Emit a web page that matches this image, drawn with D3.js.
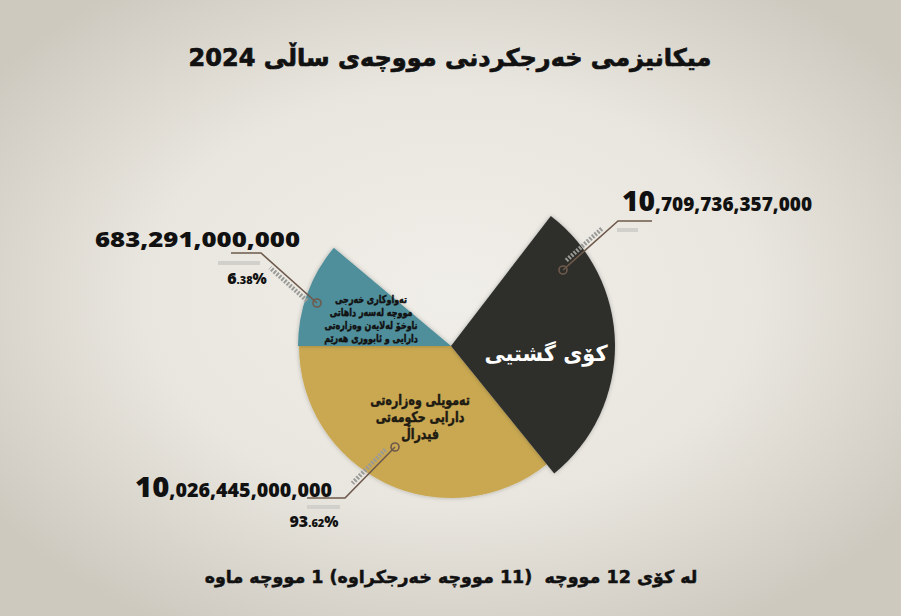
<!DOCTYPE html>
<html>
<head>
<meta charset="utf-8">
<script src="https://cdn.jsdelivr.net/npm/d3@7"></script>
<style>
  html, body { margin: 0; padding: 0; }
  body { width: 901px; height: 616px; overflow: hidden; }
</style>
</head>
<body>
<div id="chart"></div>
<script>
// data
const title = "ميكانيزمی خەرجكردنی مووچەی ساڵی 2024";
const footnote = "لە كۆی 12 مووچە  (11 مووچە خەرجكراوە) 1 مووچە ماوە";
const sliceKeys = ["total", "federal", "internal"];
const sliceValues = [10709736357000, 10026445000000, 683291000000];
const slicePercents = [null, 93.62, 6.38];
const sliceLabels = [
  ["كۆی گشتیی"],
  ["تەمویلی وەزارەتی", "دارایی حكومەتی", "فیدراڵ"],
  ["تەواوكاری خەرجی", "مووچە لەسەر داهاتی", "ناوخۆ لەلایەن وەزارەتی", "دارایی و ئابووری هەرێم"]
];

// layout (infographic, slices are not drawn to proportion)
const W = 901, H = 616;
const cx = 451, cy = 346;
const sliceAngles = [[37.5, 141], [141, 270], [270, 310]]; // degrees clockwise from 12 o'clock
const sliceRadius = [164, 152, 153];
const colors = ["#2e2e2c", "#c9a851", "#4f8e9b"];
const labelPos = [
  {x: 546, y: 361, size: 22, fill: "#ffffff", gap: 22, weight: "bold", sx: 0.95, stroke: 0},
  {x: 420, y: 405, size: 14.5, fill: "#1d1a12", gap: 17, weight: "bold", sx: 0.76, stroke: 0.5},
  {x: 371, y: 303, size: 10.8, fill: "#111", gap: 13, weight: "bold", sx: 0.74, stroke: 0.45}
];
const leaders = [
  {pts: [[563, 270], [618, 221], [652, 221]], num: {x: 622, y: 211, anchor: "start", w: 190}, shadow: [617, 638, 230]},
  {pts: [[395, 447], [345, 498], [307, 498]], num: {x: 332, y: 497, anchor: "end", w: 197}, pct: {x: 314, y: 527}, shadow: [307, 340, 507]},
  {pts: [[317, 303], [261, 253], [231, 253]], num: {x: 300, y: 247, anchor: "end", w: 205}, pct: {x: 247, y: 284}, shadow: [218, 260, 263]}
];

const svg = d3.select("#chart").append("svg")
  .attr("width", W).attr("height", H);

const defs = svg.append("defs");
const bg = defs.append("radialGradient").attr("id", "bg")
  .attr("cx", "50%").attr("cy", "48%").attr("r", "62%");
bg.append("stop").attr("offset", "0%").attr("stop-color", "#f0eee8");
bg.append("stop").attr("offset", "55%").attr("stop-color", "#e9e6df");
bg.append("stop").attr("offset", "100%").attr("stop-color", "#cdc9bf");
const shadow = defs.append("filter").attr("id", "soft")
  .attr("x", "-20%").attr("y", "-20%").attr("width", "140%").attr("height", "140%");
shadow.append("feDropShadow").attr("dx", 0).attr("dy", 0)
  .attr("stdDeviation", 2).attr("flood-color", "#000").attr("flood-opacity", 0.25);

svg.append("rect").attr("width", W).attr("height", H).attr("fill", "url(#bg)");

svg.append("text")
  .attr("x", 450).attr("y", 66)
  .attr("text-anchor", "middle")
  .attr("direction", "rtl")
  .style("font-family", "'DejaVu Sans', sans-serif")
  .style("font-weight", "bold")
  .style("font-size", "24px")
  .attr("fill", "#111")
  .attr("stroke", "#111").attr("stroke-width", 0.7)
  .text(title);

const angle = d3.scaleLinear().domain([0, 360]).range([0, 2 * Math.PI]);

const slices = sliceKeys.map((k, i) => ({
  key: k,
  value: sliceValues[i],
  startAngle: angle(sliceAngles[i][0]),
  endAngle: angle(sliceAngles[i][1]),
  r: sliceRadius[i]
}));

const pie = svg.append("g").attr("transform", `translate(${cx},${cy})`);
// draw gold + teal first, dark last so its shadow sits on top
[1, 2, 0].forEach(i => {
  const s = slices[i];
  const arc = d3.arc().innerRadius(0).outerRadius(s.r);
  pie.append("path")
    .attr("d", arc(s))
    .attr("fill", colors[i])
    .attr("filter", "url(#soft)");
});

// inside labels (squeezed horizontally, the original face is narrower)
slices.forEach((s, i) => {
  const lp = labelPos[i];
  const t = svg.append("g")
    .attr("transform", `translate(${lp.x},${lp.y}) scale(${lp.sx},1)`)
    .append("text")
    .attr("text-anchor", "middle")
    .attr("direction", "rtl")
    .style("font-family", "'DejaVu Sans', sans-serif")
    .style("font-weight", lp.weight)
    .style("font-size", lp.size + "px")
    .attr("fill", lp.fill);
  if (lp.stroke) t.attr("stroke", lp.fill).attr("stroke-width", lp.stroke);
  sliceLabels[i].forEach((line, j) => {
    t.append("tspan").attr("x", 0).attr("y", j * lp.gap).text(line);
  });
});

// leaders
const lineGen = d3.line();
const fmt = d3.format(",d");
leaders.forEach((ld, i) => {
  const g = svg.append("g");
  g.append("line")
    .attr("x1", ld.shadow[0]).attr("x2", ld.shadow[1])
    .attr("y1", ld.shadow[2]).attr("y2", ld.shadow[2])
    .attr("stroke", "#d2d0cb").attr("stroke-width", 4);
  // chain texture along the slanted segment
  const [a, b] = ld.pts;
  const dx = b[0] - a[0], dy = b[1] - a[1], len = Math.hypot(dx, dy);
  const nx = -dy / len * 5, ny = dx / len * 5;
  const side = i === 1 ? 1 : -1;
  g.append("line")
    .attr("x1", a[0] + dx * 0.12 + nx * side).attr("y1", a[1] + dy * 0.12 + ny * side)
    .attr("x2", a[0] + dx * 0.78 + nx * side).attr("y2", a[1] + dy * 0.78 + ny * side)
    .attr("stroke", "#9a9a97").attr("stroke-width", 4.5)
    .attr("stroke-dasharray", "2,1.5");
  g.append("path")
    .attr("d", lineGen(ld.pts))
    .attr("fill", "none")
    .attr("stroke", "#6e5a4c").attr("stroke-width", 1.6);
  g.append("circle")
    .attr("cx", a[0]).attr("cy", a[1]).attr("r", 4)
    .attr("fill", "none")
    .attr("stroke", "#6e5a4c").attr("stroke-width", 1.6);

  // value label: first group bigger
  const str = fmt(sliceValues[i]);
  const first = str.split(",")[0];
  const rest = str.slice(first.length);
  const big = first.length === 2;
  const nt = g.append("text")
    .attr("x", ld.num.x).attr("y", ld.num.y)
    .attr("text-anchor", ld.num.anchor)
    .attr("textLength", ld.num.w)
    .attr("lengthAdjust", "spacingAndGlyphs")
    .style("font-family", "'Open Sans', sans-serif")
    .style("font-weight", 800)
    .attr("fill", "#111");
  nt.append("tspan").style("font-size", big ? "29px" : "20.5px").text(first);
  nt.append("tspan").style("font-size", big ? "19.5px" : "20.5px").text(rest);

  if (slicePercents[i] != null) {
    const p = d3.format(".2f")(slicePercents[i]).split(".");
    const pt = g.append("text")
      .attr("x", ld.pct.x).attr("y", ld.pct.y)
      .attr("text-anchor", "middle")
      .style("font-family", "'Open Sans', sans-serif")
      .style("font-weight", 800)
      .attr("fill", "#111");
    pt.append("tspan").style("font-size", "16px").text(p[0]);
    pt.append("tspan").style("font-size", "11px").text("." + p[1]);
    pt.append("tspan").style("font-size", "15px").text("%");
  }
});

svg.append("text")
  .attr("x", 451).attr("y", 583)
  .attr("text-anchor", "middle")
  .attr("direction", "rtl")
  .style("white-space", "pre")
  .style("font-family", "'DejaVu Sans', sans-serif")
  .style("font-weight", "bold")
  .style("font-size", "17.5px")
  .attr("fill", "#111")
  .attr("stroke", "#111").attr("stroke-width", 0.5)
  .text(footnote);
</script>
</body>
</html>
